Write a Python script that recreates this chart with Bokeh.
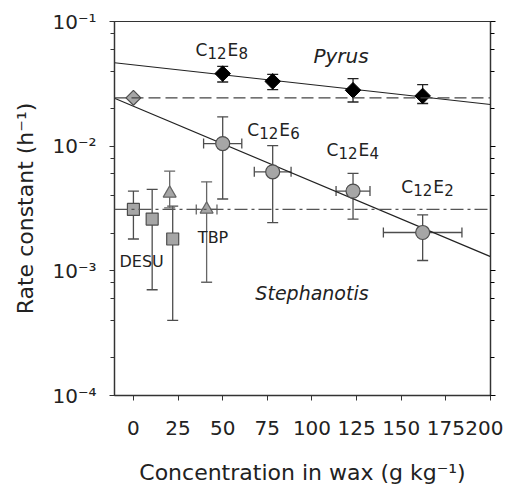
from bokeh.plotting import figure
from bokeh.models import (ColumnDataSource, Whisker, TeeHead, LogAxis, FixedTicker,
                          Range1d, Span)
from bokeh.core.properties import value
from bokeh.embed import file_html
from bokeh.resources import INLINE
import numpy as np

# ---------------- data ----------------
x_ticks = [0, 25, 50, 75, 100, 125, 150, 175, 200]
y_ticks = [1e-4, 1e-3, 1e-2, 1e-1]
y_tick_labels = ["10⁻⁴", "10⁻³", "10⁻²", "10⁻¹"]
y_minor = [m * d for d in (1e-4, 1e-3, 1e-2) for m in (2, 4, 6, 8)]

# Pyrus (black diamonds)
pyrus_x = [50, 78, 123, 162]
pyrus_y = [0.0382, 0.0331, 0.0281, 0.0253]
pyrus_lo = [0.0327, 0.0284, 0.0226, 0.0220]
pyrus_hi = [0.0437, 0.0377, 0.0348, 0.0312]

# Stephanotis (grey circles)
steph_x = [50, 78, 123, 162]
steph_y = [0.0105, 0.00623, 0.00436, 0.00203]
steph_lo = [0.00377, 0.00244, 0.0026, 0.00121]
steph_hi = [0.0172, 0.0101, 0.00604, 0.00281]
steph_xerr = [10.7, 10.3, 9.5, 22.0]

# control (grey diamond)
ctrl_x = [0]
ctrl_y = [0.0244]

# DESU (grey squares)
desu_x = [0, 10.5, 22]
desu_y = [0.00311, 0.0026, 0.0018]
desu_lo = [0.0018, 0.000705, 0.0004]
desu_hi = [0.00436, 0.0045, 0.0033]

# TBP (grey triangles)
tbp_x = [20.3, 41]
tbp_y = [0.00418, 0.00311]
tbp_lo = [0.0032, 0.00081]
tbp_hi = [0.0063, 0.00518]
tbp_xerr = [0, 5.8]

# regression lines and reference levels
fit_x = [-10.6, 200]
pyrus_fit = [0.0467, 0.0216]
steph_fit = [0.0242, 0.0013]
ctrl_level = 0.0244
tbp_level = 0.00311

# surfactant labels C12En
lab_x = [34.7, 63.7, 108.1, 150.0]
lab_y = [0.0586, 0.01343, 0.00929, 0.00473]
lab_n = ["8", "6", "4", "2"]

# ---------------- figure ----------------
FONT = "DejaVu Sans"
TXT = "#222222"
EDGE = "#4d4d4d"
GREY = "#a6a6a6"

p = figure(width=503, height=487, x_range=Range1d(-10.6, 200), y_range=Range1d(1e-4, 1e-1),
           y_axis_type="log", output_backend="svg", toolbar_location=None,
           min_border_left=114, min_border_right=13, min_border_top=21, min_border_bottom=85)
p.xgrid.visible = False
p.ygrid.visible = False
p.outline_line_color = "#333333"
p.outline_line_width = 1.2
p.background_fill_color = "white"
p.border_fill_color = "white"

# axes
xa = p.xaxis[0]
xa.ticker = FixedTicker(ticks=x_ticks, minor_ticks=[])
ya = p.yaxis[0]
ya.ticker = FixedTicker(ticks=y_ticks, minor_ticks=y_minor)
ya.major_label_overrides = {t: s for t, s in zip(y_ticks, y_tick_labels)}

for ax in (xa, ya):
    ax.axis_line_color = "#333333"
    ax.axis_line_width = 1.3
    ax.major_tick_line_color = "#333333"
    ax.minor_tick_line_color = "#333333"
    ax.major_tick_in = 0
    ax.major_tick_out = 5
    ax.minor_tick_in = 0
    ax.minor_tick_out = 4
    ax.major_label_text_font = FONT
    ax.major_label_text_font_size = "20px"
    ax.major_label_text_color = TXT
    ax.axis_label_text_font = FONT
    ax.axis_label_text_font_size = "22px"
    ax.axis_label_text_font_style = "normal"
    ax.axis_label_text_color = TXT

xa.axis_label = "Concentration in wax (g kg⁻¹)"
xa.major_label_standoff = 20
xa.axis_label_standoff = 22
ya.axis_label = "Rate constant (h⁻¹)"
ya.major_label_standoff = 13
ya.axis_label_standoff = 11

ra = LogAxis(ticker=FixedTicker(ticks=y_ticks, minor_ticks=y_minor))
ra.axis_line_color = "#333333"
ra.axis_line_width = 1.3
ra.major_tick_in = 0
ra.major_tick_out = 5
ra.minor_tick_in = 0
ra.minor_tick_out = 4
ra.major_label_overrides = {t: "" for t in y_ticks}
ra.major_label_standoff = 0
p.add_layout(ra, "right")

# reference levels
p.add_layout(Span(location=ctrl_level, dimension="width", line_color="#444444",
                  line_width=1.3, line_dash="12 5"))
p.add_layout(Span(location=tbp_level, dimension="width", line_color="#555555",
                  line_width=1.2, line_dash="13 4 3 4"))

# fit lines
p.line(fit_x, pyrus_fit, line_color="#222222", line_width=1.2)
p.line(fit_x, steph_fit, line_color="#222222", line_width=1.2)


def vbars(xs, lo, hi, color, size=11):
    src = ColumnDataSource(dict(x=xs, lo=lo, hi=hi))
    w = Whisker(source=src, base="x", lower="lo", upper="hi", dimension="height",
                line_color=color, line_width=1.3, level="underlay",
                upper_head=TeeHead(size=size, line_color=color, line_width=1.3),
                lower_head=TeeHead(size=size, line_color=color, line_width=1.3))
    p.add_layout(w)


def hbars(xs, ys, xerr, color, size=10):
    keep = [i for i, e in enumerate(xerr) if e > 0]
    src = ColumnDataSource(dict(y=[ys[i] for i in keep],
                                lo=[xs[i] - xerr[i] for i in keep],
                                hi=[xs[i] + xerr[i] for i in keep]))
    w = Whisker(source=src, base="y", lower="lo", upper="hi", dimension="width",
                line_color=color, line_width=1.3, level="underlay",
                upper_head=TeeHead(size=size, line_color=color, line_width=1.3),
                lower_head=TeeHead(size=size, line_color=color, line_width=1.3))
    p.add_layout(w)


vbars(pyrus_x, pyrus_lo, pyrus_hi, "#222222")
vbars(steph_x, steph_lo, steph_hi, EDGE)
hbars(steph_x, steph_y, steph_xerr, EDGE)
vbars(desu_x, desu_lo, desu_hi, EDGE)
vbars(tbp_x, tbp_lo, tbp_hi, "#666666")
hbars(tbp_x, tbp_y, tbp_xerr, "#666666")

# markers
p.scatter(pyrus_x, pyrus_y, marker="square", angle=np.pi / 4, size=11,
          fill_color="black", line_color="black")
p.scatter(ctrl_x, ctrl_y, marker="square", angle=np.pi / 4, size=10.5,
          fill_color=GREY, line_color=EDGE, line_width=1.2)
p.scatter(steph_x, steph_y, marker="circle", size=14,
          fill_color=GREY, line_color=EDGE, line_width=1.2)
p.scatter(desu_x, desu_y, marker="square", size=12,
          fill_color=GREY, line_color=EDGE, line_width=1.2)
p.scatter(tbp_x, tbp_y, marker="triangle", size=13,
          fill_color=GREY, line_color="#666666", line_width=1.2)

# C12En labels (composed with subscripts)
common = dict(text_font=value(FONT), text_color=TXT, text_align="left",
              text_baseline="alphabetic")
p.text(lab_x, lab_y, text=["C"] * 4, text_font_size=value("17px"), **common)
p.text(lab_x, lab_y, text=["12"] * 4, text_font_size=value("15px"), x_offset=12,
       y_offset=3, **common)
p.text(lab_x, lab_y, text=["E"] * 4, text_font_size=value("17px"), x_offset=32, **common)
p.text(lab_x, lab_y, text=lab_n, text_font_size=value("15px"), x_offset=43,
       y_offset=3, **common)

# species and treatment labels
p.text([100.8], [0.0525], text=["Pyrus"], text_font=value(FONT), text_font_size=value("20px"),
       text_font_style="italic", text_color=TXT, text_baseline="middle", text_align="left")
p.text([68.3], [0.00066], text=["Stephanotis"], text_font=value(FONT),
       text_font_size=value("19px"), text_font_style="italic", text_color=TXT,
       text_baseline="middle", text_align="left")
p.text([-7.8], [0.00118], text=["DESU"], text_font=value(FONT), text_font_size=value("16px"),
       text_color=TXT, text_baseline="middle", text_align="left")
p.text([44.6], [0.00184], text=["TBP"], text_font=value(FONT), text_font_size=value("16px"),
       text_color=TXT, text_baseline="middle", text_align="center")

open("out.html", "w").write(file_html(p, INLINE))
